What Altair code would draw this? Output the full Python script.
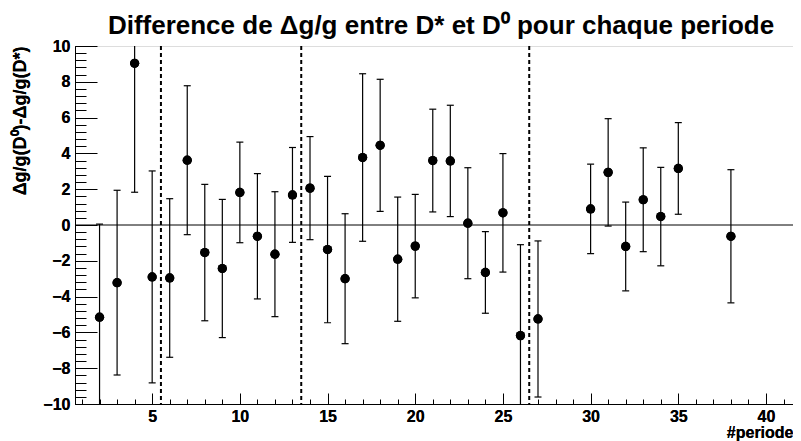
import altair as alt
import pandas as pd

# ---- data ----
periods = [2, 3, 4, 5, 6, 7, 8, 9, 10, 11, 12, 13, 14, 15, 16, 17, 18, 19, 20,
           21, 22, 23, 24, 25, 26, 27, 30, 31, 32, 33, 34, 35, 38]
values = [-5.15, -3.22, 9.03, -2.90, -2.96, 3.62, -1.54, -2.43, 1.82, -0.63,
          -1.63, 1.68, 2.06, -1.37, -3.00, 3.77, 4.45, -1.91, -1.18, 3.60,
          3.58, 0.10, -2.65, 0.68, -6.18, -5.25, 0.90, 2.94, -1.20, 1.41,
          0.47, 3.16, -0.63]
errors = [5.20, 5.16, 7.20, 5.92, 4.43, 4.16, 3.81, 3.86, 2.81, 3.50,
          3.49, 2.65, 2.88, 4.09, 3.63, 4.68, 3.69, 3.47, 2.89, 2.87,
          3.11, 3.10, 2.28, 3.31, 5.08, 4.36, 2.50, 3.00, 2.48, 2.90,
          2.75, 2.56, 3.72]
separators = [5.5, 13.5, 26.5]

x_major_ticks = [5, 10, 15, 20, 25, 30, 35, 40]
x_minor_ticks = list(range(1, 42))
y_major_ticks = [-10, -8, -6, -4, -2, 0, 2, 4, 6, 8, 10]
y_minor_ticks = [round(-10 + 0.4 * i, 1) for i in range(51)]

title_text = "Difference de \u0394g/g entre D* et D\u2070 pour chaque periode"
y_title = "\u0394g/g(D\u2070)-\u0394g/g(D*)"
x_title = "#periode"

FONT = "Liberation Sans"

df = pd.DataFrame({"periode": periods, "val": values, "err": errors})
df["lo"] = df["val"] - df["err"]
df["hi"] = df["val"] + df["err"]
sep_df = pd.DataFrame({"sep": separators})
zero_df = pd.DataFrame({"z": [0]})

W, H = 718, 358
xs = alt.Scale(domain=[0.6, 41.54], nice=False, zero=False)
ys = alt.Scale(domain=[-10, 10], nice=False, zero=False)

main_x = alt.Axis(orient="bottom", values=x_major_ticks, ticks=False, domain=True,
                  domainColor="black", domainWidth=1, labelFont=FONT,
                  labelFontWeight="bold", labelFontSize=16, labelColor="black",
                  labelPadding=4, labelFlush=False, labelOverlap=False, grid=False,
                  title=x_title, titleFont=FONT, titleFontWeight="bold",
                  titleFontSize=16, titleColor="black", titleAlign="right",
                  titleBaseline="alphabetic", titleX=W, titleY=33)
main_y = alt.Axis(orient="left", values=y_major_ticks, ticks=False, domain=True,
                  domainColor="black", domainWidth=1, labelFont=FONT,
                  labelFontWeight="bold", labelFontSize=16, labelColor="black",
                  labelPadding=5, labelFlush=False, labelOverlap=False, grid=False,
                  title=y_title, titleFont=FONT, titleFontWeight="bold",
                  titleFontSize=18, titleColor="black", titleAngle=270,
                  titleAlign="right", titleBaseline="alphabetic",
                  titleX=-50, titleY=0)

def tick_axis(orient, vals, size):
    return alt.Axis(orient=orient, values=vals, offset=-size, tickSize=size,
                    ticks=True, tickColor="black", tickWidth=1, labels=False,
                    domain=False, grid=False, title=None)

points = alt.Chart(df).mark_point(filled=True, size=85, color="black",
                                  opacity=1).encode(
    x=alt.X("periode:Q", scale=xs, axis=main_x),
    y=alt.Y("val:Q", scale=ys, axis=main_y),
)

major_ticks = alt.Chart(df).mark_point(opacity=0).encode(
    x=alt.X("periode:Q", scale=xs, axis=tick_axis("bottom", x_major_ticks, 11)),
    y=alt.Y("val:Q", scale=ys, axis=tick_axis("left", y_major_ticks, 22)),
)
minor_ticks = alt.Chart(df).mark_point(opacity=0).encode(
    x=alt.X("periode:Q", scale=xs, axis=tick_axis("bottom", x_minor_ticks, 5)),
    y=alt.Y("val:Q", scale=ys, axis=tick_axis("left", y_minor_ticks, 11)),
)

zero_line = alt.Chart(zero_df).mark_rule(color="black", strokeWidth=1).encode(
    y=alt.Y("z:Q", scale=ys, axis=None)
)

sep_lines = alt.Chart(sep_df).mark_rule(color="black", strokeWidth=2,
                                        strokeDash=[4, 3]).encode(
    x=alt.X("sep:Q", scale=xs, axis=None)
)

bars = alt.Chart(df).mark_rule(color="black", strokeWidth=1.2, clip=True).encode(
    x=alt.X("periode:Q", scale=xs, axis=None),
    y=alt.Y("lo:Q", scale=ys, axis=None),
    y2="hi:Q",
)
cap_lo = alt.Chart(df).mark_tick(orient="horizontal", size=7, thickness=1.2,
                                 color="black", opacity=1, clip=True).encode(
    x=alt.X("periode:Q", scale=xs, axis=None),
    y=alt.Y("lo:Q", scale=ys, axis=None),
)
cap_hi = alt.Chart(df).mark_tick(orient="horizontal", size=7, thickness=1.2,
                                 color="black", opacity=1, clip=True).encode(
    x=alt.X("periode:Q", scale=xs, axis=None),
    y=alt.Y("hi:Q", scale=ys, axis=None),
)

chart = alt.layer(
    points, major_ticks, minor_ticks, zero_line, sep_lines, bars, cap_lo, cap_hi,
    points,
).resolve_axis(x="independent", y="independent").properties(
    width=W, height=H,
    autosize=alt.AutoSizeParams(type="none"),
    padding={"left": 67, "top": 38, "right": 0, "bottom": 37},
    title=alt.TitleParams(title_text, font=FONT, fontWeight="bold", fontSize=26,
                          color="black", anchor="middle", offset=3, dx=7, dy=4),
).configure_view(stroke="black", strokeWidth=1).configure(background="white")

chart.save("out.html", embed_options={"renderer": "svg", "actions": False})
